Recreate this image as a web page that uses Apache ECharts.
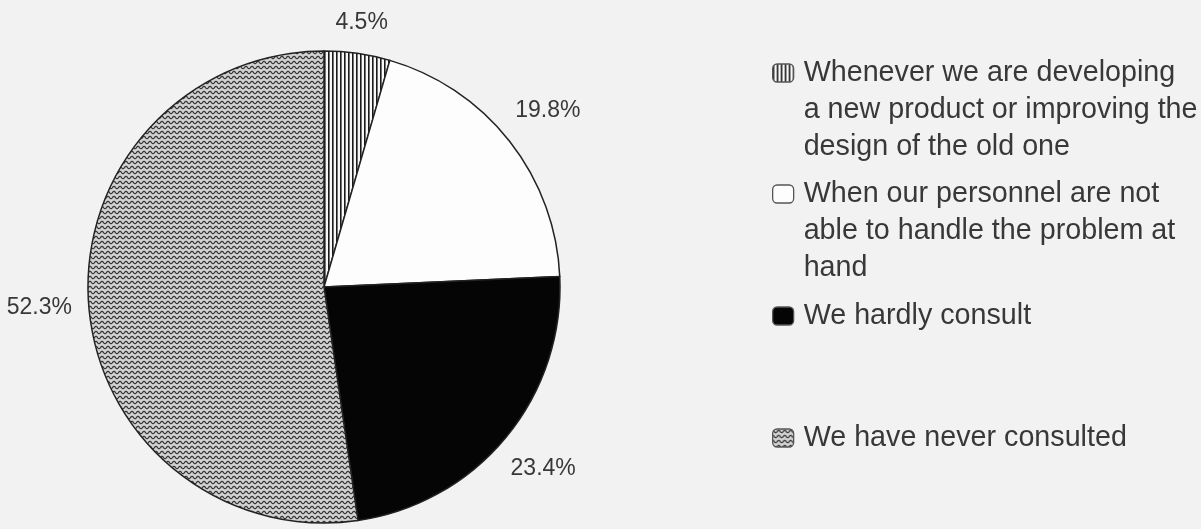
<!DOCTYPE html>
<html>
<head>
<meta charset="utf-8">
<script src="https://cdn.jsdelivr.net/npm/echarts@6/dist/echarts.min.js"></script>
<style>
  html, body { margin: 0; padding: 0; background: #f2f2f2; }
  #chart { width: 1201px; height: 529px; }
</style>
</head>
<body>
<div id="chart"></div>
<script>
// Survey answers: when do firms consult outside experts?
const categories = [
  'Whenever we are developing a new product or improving the design of the old one',
  'When our personnel are not able to handle the problem at hand',
  'We hardly consult',
  'We have never consulted'
];
const shares = [4.5, 19.8, 23.4, 52.3];

// Legend entries as they wrap on the page
const legendLines = [
  ['Whenever we are developing', 'a new product or improving the', 'design of the old one'],
  ['When our personnel are not', 'able to handle the problem at', 'hand'],
  ['We hardly consult'],
  ['We have never consulted']
];

// ---- fill patterns ----
function stripeTile() {
  const c = document.createElement('canvas');
  c.width = 4; c.height = 4;
  const g = c.getContext('2d');
  g.fillStyle = '#f8f8f8';
  g.fillRect(0, 0, 4, 4);
  g.fillStyle = '#1a1a1a';
  g.fillRect(0, 0, 1.6, 4);
  return c;
}
function waveTile() {
  const c = document.createElement('canvas');
  c.width = 6; c.height = 5;
  const g = c.getContext('2d');
  g.fillStyle = '#d2d2d2';
  g.fillRect(0, 0, 6, 5);
  g.strokeStyle = '#363636';
  g.lineWidth = 1.3;
  g.beginPath();
  for (let x = -0.5; x <= 6.5; x += 0.25) {
    const y = 2.5 - 1.2 * Math.cos(2 * Math.PI * x / 6);
    if (x === -0.5) g.moveTo(x, y); else g.lineTo(x, y);
  }
  g.stroke();
  return c;
}

const fills = [
  { image: stripeTile(), repeat: 'repeat' },
  '#fdfdfd',
  '#050505',
  { image: waveTile(), repeat: 'repeat' }
];

const textColor = '#383838';
const fontFamily = '"Liberation Sans", Arial, Helvetica, sans-serif';
const legendFont = 28.7;
const legendLineHeight = 37;
const legendFirstLineY = [73, 194, 316, 438];

const chart = echarts.init(document.getElementById('chart'), null, { renderer: 'canvas' });

// Each entry is its own legend so the icon sits beside the first text line:
// blank lines above the text keep the first line at the icon's centre.
const legends = categories.map(function (name, i) {
  const n = legendLines[i].length;
  const lead = new Array(n - 1).fill('');
  return {
    data: [name],
    orient: 'vertical',
    left: 772,
    top: legendFirstLineY[i] - (2 * n - 1) * legendLineHeight / 2,
    padding: 0,
    icon: 'roundRect',
    itemWidth: 21,
    itemHeight: 18,
    selectedMode: false,
    formatter: function () { return lead.concat(legendLines[i]).join('\n'); },
    textStyle: {
      color: textColor,
      fontFamily: fontFamily,
      fontSize: legendFont,
      lineHeight: legendLineHeight,
      padding: [0, 0, 0, 5]
    },
    itemStyle: { borderColor: '#555', borderWidth: 1.3 }
  };
});

const labelGap = 16;

chart.setOption({
  backgroundColor: '#f2f2f2',
  animation: false,
  legend: legends,
  series: [{
    type: 'pie',
    center: [324, 287],
    radius: 236,
    startAngle: 90,
    clockwise: true,
    avoidLabelOverlap: false,
    selectedMode: false,
    silent: true,
    data: categories.map(function (name, i) {
      return { name: name, value: shares[i], itemStyle: { color: fills[i] } };
    }),
    itemStyle: { borderColor: '#222', borderWidth: 1.5 },
    label: {
      show: true,
      position: 'outside',
      formatter: function (p) { return p.value.toFixed(1) + '%'; },
      color: textColor,
      fontFamily: fontFamily,
      fontSize: 23
    },
    labelLine: { show: true, length: 10, length2: 0, lineStyle: { opacity: 0 } },
    labelLayout: function (params) {
      const pts = params.labelLinePoints;
      if (!pts || pts.length < 2) return {};
      const dx = pts[1][0] - pts[0][0];
      const dy = pts[1][1] - pts[0][1];
      const len = Math.hypot(dx, dy) || 1;
      const ux = dx / len, uy = dy / len;
      const w = params.labelRect.width, h = params.labelRect.height;
      const ext = Math.abs(ux) * w / 2 + Math.abs(uy) * h / 2;
      return {
        x: pts[0][0] + ux * (labelGap + ext),
        y: pts[0][1] + uy * (labelGap + ext),
        align: 'center',
        verticalAlign: 'middle'
      };
    }
  }]
});
</script>
</body>
</html>
